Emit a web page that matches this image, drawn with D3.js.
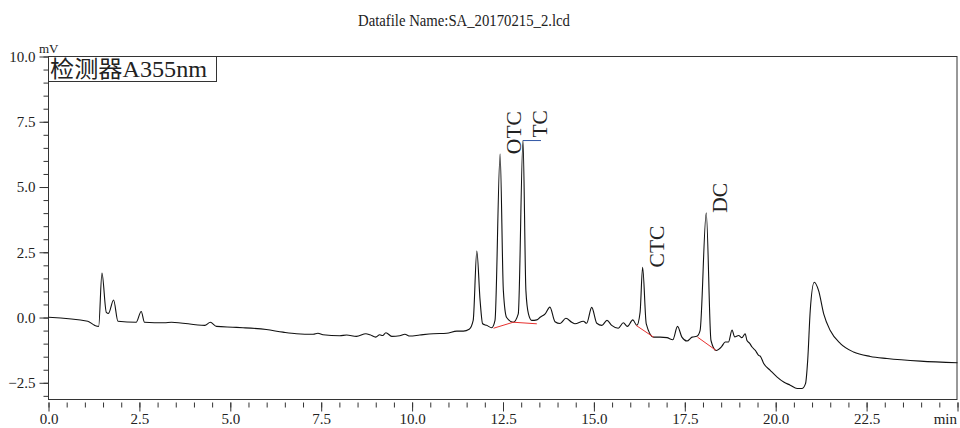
<!DOCTYPE html>
<html>
<head>
<meta charset="utf-8">
<script src="https://cdn.jsdelivr.net/npm/d3@7"></script>
<style>
  body { margin: 0; background: #fff; }
  svg { display: block; }
  text { font-family: "Liberation Serif", "Noto Sans CJK SC", serif; fill: #222; }
</style>
</head>
<body>
<svg id="chart" width="960" height="428"></svg>
<script>
// Chromatogram (min, mV)
const times = [
  0.00, 1.08, 1.27, 1.38, 1.47, 1.59, 1.65, 1.79, 1.91, 2.41, 2.55, 2.64, 3.19, 3.38,
  4.30, 4.45, 4.62, 5.07, 5.35, 5.99, 6.45, 6.82, 7.28, 7.41, 7.55, 8.01, 8.20, 8.47,
  8.73, 8.84, 9.00, 9.11, 9.19, 9.28, 9.44, 9.66, 9.80, 9.94, 10.21, 10.58, 10.95, 11.23,
  11.41, 11.57, 11.68, 11.78, 11.87, 11.94, 12.05, 12.19, 12.28, 12.42, 12.51, 12.60, 12.78,
  12.92, 13.05, 13.13, 13.20, 13.29, 13.43, 13.52, 13.66, 13.79, 13.93, 14.07, 14.23, 14.39,
  14.48, 14.71, 14.80, 14.94, 15.08, 15.22, 15.36, 15.49, 15.67, 15.81, 15.92, 16.07, 16.18,
  16.27, 16.34, 16.44, 16.64, 16.82, 17.01, 17.17, 17.30, 17.42, 17.56, 17.70, 17.83, 17.92,
  18.09, 18.22, 18.36, 18.52, 18.61, 18.70, 18.80, 18.87, 18.98, 19.07, 19.16, 19.21, 19.28,
  19.35, 19.44, 19.53, 19.58, 19.67, 19.85, 20.04, 20.22, 20.40, 20.59, 20.72, 20.82, 20.88,
  20.95, 21.06, 21.18, 21.32, 21.50, 21.78, 22.14, 22.60, 23.06, 23.98, 25.00
]
const signal = [
  0.01, -0.14, -0.30, -0.34, 1.70, 0.20, 0.16, 0.67, -0.14, -0.18, 0.23, -0.18, -0.20, -0.18,
  -0.30, -0.18, -0.34, -0.37, -0.39, -0.46, -0.56, -0.62, -0.64, -0.60, -0.66, -0.70, -0.67, -0.72,
  -0.62, -0.66, -0.75, -0.66, -0.69, -0.58, -0.72, -0.70, -0.64, -0.71, -0.67, -0.62, -0.60, -0.52,
  -0.52, -0.45, -0.11, 2.55, 0.65, -0.24, -0.30, -0.39, -0.11, 6.26, 1.03, 0.00, -0.18,
  0.14, 6.78, 1.03, 0.14, -0.11, -0.09, 0.01, 0.14, 0.40, -0.16, -0.23, -0.03, -0.18,
  -0.24, -0.14, -0.22, 0.39, -0.22, -0.30, -0.11, -0.30, -0.41, -0.20, -0.34, -0.09, -0.30,
  0.20, 1.92, -0.24, -0.75, -0.75, -0.77, -0.85, -0.34, -0.75, -0.90, -0.75, -0.72, -0.50,
  4.01, -0.88, -1.26, -1.10, -0.94, -0.94, -0.48, -0.74, -0.69, -0.77, -0.62, -0.88, -0.98,
  -1.13, -1.26, -1.45, -1.49, -1.76, -2.02, -2.28, -2.47, -2.59, -2.72, -2.72, -2.53, -1.64,
  0.27, 1.35, 1.03, 0.14, -0.50, -1.00, -1.32, -1.49, -1.57, -1.67, -1.73
]

// Named peaks
const peakNames = ['OTC', 'TC', 'CTC', 'DC']
const peakTimes = [12.42, 13.05, 16.34, 18.09]
const peakHeights = [6.26, 6.78, 1.92, 4.01]
const leaderPeaks = ['TC']

// Integration baselines (red)
const baselineTimes = [[12.24, 12.78, 13.43], [16.16, 16.64], [17.85, 18.36]]
const baselineValues = [[-0.41, -0.18, -0.24], [-0.30, -0.75], [-0.75, -1.26]]

// Axes
const xMajorTicks = [0, 2.5, 5, 7.5, 10, 12.5, 15, 17.5, 20, 22.5, 25]
const yMajorTicks = [-2.5, 0, 2.5, 5, 7.5, 10]
const xDomain = [0, 25]
const yDomain = [-3.14, 10]

const titleText = 'Datafile Name:SA_20170215_2.lcd'
const legendText = '检测器A355nm'

const svg = d3.select('#chart')
const plotLeft = 48.5, plotRight = 957.5, plotTop = 56.5, plotBottom = 399.5

const x = d3.scaleLinear().domain(xDomain).range([plotLeft, plotRight])
const y = d3.scaleLinear().domain(yDomain).range([plotBottom, plotTop])

// Title (condensed, as in the instrument print-out)
svg.append('text')
  .attr('x', 358)
  .attr('y', 26)
  .attr('textLength', 212)
  .attr('lengthAdjust', 'spacingAndGlyphs')
  .style('font-size', '16.5px')
  .text(titleText)

// Y axis: minor then major ticks
const gYMinor = svg.append('g').attr('transform', `translate(${plotLeft},0)`)
  .call(d3.axisLeft(y).tickValues(d3.range(-3, 10.01, 0.5)).tickSize(5).tickFormat(''))
const gY = svg.append('g').attr('transform', `translate(${plotLeft},0)`)
  .call(d3.axisLeft(y).tickValues(yMajorTicks).tickSize(9).tickPadding(4).tickFormat(d3.format('.1f')))

// X axis, ticks hang a little below the frame
const gXMinor = svg.append('g').attr('transform', `translate(0,${plotBottom + 3})`)
  .call(d3.axisBottom(x).tickValues(d3.range(0, 25.01, 0.5)).tickSize(5).tickFormat(''))
const gX = svg.append('g').attr('transform', `translate(0,${plotBottom + 3})`)
  .call(d3.axisBottom(x).tickValues(xMajorTicks).tickSize(9).tickPadding(2)
    .tickFormat(d => d === 25 ? 'min' : d3.format('.1f')(d)))

;[gYMinor, gY, gXMinor, gX].forEach(g => {
  g.select('.domain').remove()
  g.selectAll('line').attr('stroke', '#333')
  g.selectAll('text')
    .style('font-family', '"Liberation Serif", serif')
    .style('font-size', '15px')
    .attr('fill', '#222')
})
gX.selectAll('.tick').filter(d => d === 25).select('text')
  .attr('text-anchor', 'end')
  .attr('dx', -1)

// Frame
svg.append('rect')
  .attr('x', plotLeft)
  .attr('y', plotTop)
  .attr('width', plotRight - plotLeft - 0.5)
  .attr('height', plotBottom - plotTop)
  .attr('fill', 'none')
  .attr('stroke', '#333')
  .attr('stroke-width', 1)

svg.append('text')
  .attr('x', 39)
  .attr('y', 53)
  .style('font-size', '13px')
  .text('mV')

// Trace
const points = times.map((t, i) => [t, signal[i]])
const line = d3.line()
  .x(d => x(d[0]))
  .y(d => y(d[1]))
  .curve(d3.curveMonotoneX)

svg.append('path')
  .datum(points)
  .attr('d', line)
  .attr('fill', 'none')
  .attr('stroke', '#111')
  .attr('stroke-width', 1.1)
  .attr('stroke-linejoin', 'round')

// Baselines
baselineTimes.forEach((ts, i) => {
  const seg = ts.map((t, j) => [t, baselineValues[i][j]])
  svg.append('path')
    .datum(seg)
    .attr('d', d3.line().x(d => x(d[0])).y(d => y(d[1])))
    .attr('fill', 'none')
    .attr('stroke', '#e8312f')
    .attr('stroke-width', 1)
})

// Peak labels, rotated
peakNames.forEach((name, i) => {
  const px = x(peakTimes[i])
  const py = y(peakHeights[i])
  const hasLeader = leaderPeaks.includes(name)
  const lx = px + (hasLeader ? 24 : 21)
  const ly = py + (hasLeader ? -3 : 0)
  if (hasLeader) {
    svg.append('line')
      .attr('x1', px)
      .attr('x2', px + 18)
      .attr('y1', py)
      .attr('y2', py)
      .attr('stroke', '#2f55a4')
      .attr('stroke-width', 1)
  }
  svg.append('text')
    .attr('transform', `translate(${lx},${ly}) rotate(-90)`)
    .style('font-size', '21.5px')
    .text(name)
})

// Legend box
svg.append('rect')
  .attr('x', plotLeft)
  .attr('y', plotTop)
  .attr('width', 168)
  .attr('height', 25)
  .attr('fill', '#fff')
  .attr('stroke', '#333')
svg.append('text')
  .attr('x', 50)
  .attr('y', 76.5)
  .attr('textLength', 157)
  .attr('lengthAdjust', 'spacingAndGlyphs')
  .style('font-size', '23px')
  .text(legendText)
</script>
</body>
</html>
